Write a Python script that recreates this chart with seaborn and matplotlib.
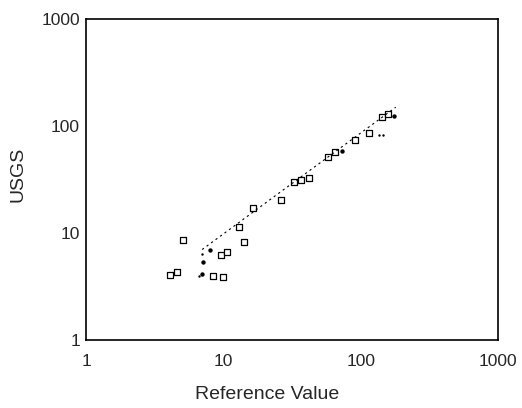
import numpy as np
import pandas as pd
import matplotlib
matplotlib.use("Agg")
import matplotlib.pyplot as plt
import seaborn as sns

# values (log-log)
ref_open = [4.1, 4.6, 5.05, 8.4, 9.9, 9.6, 10.6, 14.1, 12.9, 16.4, 26.4, 32.9,
            36.9, 42.0, 57.3, 65.4, 90.4, 114, 142, 157]
usgs_open = [4.05, 4.3, 8.6, 3.96, 3.88, 6.2, 6.6, 8.2, 11.4, 17.1, 20.3, 30.0,
             31.2, 32.7, 51.2, 57.0, 74.0, 86.0, 121, 130]
ref_filled = [7.0, 7.1, 8.0, 73.0, 175]
usgs_filled = [4.1, 5.3, 6.9, 58.0, 123]
ref_dots = [6.6, 7.0, 136, 145]
usgs_dots = [4.0, 6.4, 82, 82]
fit_x = [7.0, 180]
fit_y = [7.0, 150]
ticks = [1, 10, 100, 1000]

sns.set_style("white")
plt.rcParams["font.family"] = ["Liberation Sans", "DejaVu Sans"]

fig = plt.figure(figsize=(5.22, 4.08), dpi=100)
ax = fig.add_axes([0.165, 0.167, 0.789, 0.786])

ax.plot(fit_x, fit_y, color="black", linestyle=(0, (2, 3)), linewidth=0.8)
sns.scatterplot(x=ref_open, y=usgs_open, ax=ax, marker="s", s=22,
                facecolor="white", edgecolor="black", linewidth=0.9)
sns.scatterplot(x=ref_filled, y=usgs_filled, ax=ax, marker="o", s=10,
                color="black", linewidth=0)
sns.scatterplot(x=ref_dots, y=usgs_dots, ax=ax, marker="o", s=3,
                color="black", linewidth=0)

ax.set_xscale("log")
ax.set_yscale("log")
ax.set_xlim(1, 1000)
ax.set_ylim(1, 1000)
ax.set_xticks(ticks)
ax.set_xticklabels([str(t) for t in ticks])
ax.set_yticks(ticks)
ax.set_yticklabels([str(t) for t in ticks])
ax.minorticks_off()
ax.tick_params(direction="in", length=3, width=1, labelsize=12.5)
ax.tick_params(axis="x", pad=10)
ax.tick_params(axis="y", pad=4.5)
for sp in ax.spines.values():
    sp.set_linewidth(1.2)
    sp.set_color("black")

ax.set_xlabel("Reference Value", fontsize=14)
ax.xaxis.set_label_coords(0.44, -0.143)
ax.set_ylabel("USGS", fontsize=14)
ax.yaxis.set_label_coords(-0.145, 0.515)

fig.savefig("out.png", dpi=100)
